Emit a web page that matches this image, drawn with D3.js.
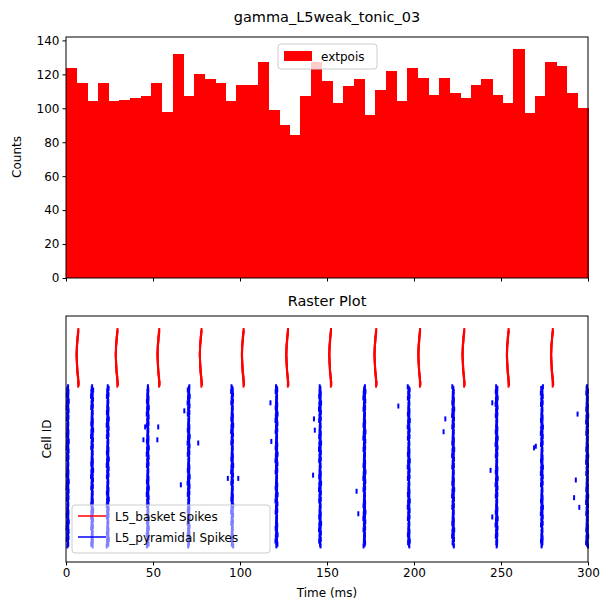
<!DOCTYPE html>
<html>
<head>
<meta charset="utf-8">
<script src="https://cdn.jsdelivr.net/npm/d3@7"></script>
<style>
body { margin: 0; background: #fff; }
text { font-family: "DejaVu Sans", sans-serif; }
</style>
</head>
<body>
<div id="chart"></div>
<script>
// histogram of extpois input, 49 bins over 0-300 ms
var histCounts = [124, 115, 104, 115, 104, 105, 106, 107, 115, 98, 132, 107, 120, 117, 115, 104, 114, 114, 127, 99,
	90, 84, 107, 127, 116, 103, 113, 117, 96, 111, 122, 104, 124, 118, 108, 118, 109, 106, 114, 117,
	108, 103, 135, 97, 107, 127, 125, 109, 100];
var yTicksTop = [0, 20, 40, 60, 80, 100, 120, 140];
var xTicks = [0, 50, 100, 150, 200, 250, 300];

// raster: burst times (ms) and per-cell offsets (ms)
var basketBursts = [6.5, 29, 53, 77.3, 101.5, 127, 151.7, 177.7, 202.9, 228.3, 253.8, 279.2];
var basketOffsets = [0.6, 0.5, 0.4, 0.3, 0.2, 0.1, 0.1, 0, -0.1, -0.2, -0.2, -0.3, -0.3, -0.3, -0.4, -0.4, -0.4, -0.3,
	-0.3, -0.3, -0.2, -0.2, -0.1, -0.1, 0, 0, 0.1, 0.2, 0.3, 0.4, 0.5, 0.5, 0.6, 0.8, 0.5];
var pyrBursts = [1, 15, 24, 47, 70.5, 95.5, 121, 146, 171.5, 197, 222.5, 247.5, 273.5, 299.5];
var pyrOffsets = [0.2, 0, -0.3, 0.4, 0.1, -0.5, 0.3, 0, -0.2, 0.6, -0.4, 0.1, 0.3, -0.6, 0, 0.5, -0.1, -0.3, 0.2, 0.4,
	-0.5, 0.1, 0, 0.3, -0.2];
var pyrStray = [[45.5, 60], [53, 60], [44.5, 68], [52.5, 68], [68, 50], [76, 70], [66, 96], [93, 92],
	[99, 92], [117.5, 45], [118, 69], [142.5, 55], [143, 62], [142, 90], [167, 100], [168, 114],
	[191, 47], [218, 55], [217, 63], [245, 45], [244, 87], [245, 116], [270, 72], [269, 73],
	[294, 52], [293, 93], [292, 104], [295, 110]];

var w = 611, h = 611;
var svg = d3.select("#chart").append("svg").attr("width", w).attr("height", h);
var left = 66, right = 588;

svg.append("text").attr("x", (left + right) / 2).attr("y", 22).attr("text-anchor", "middle")
	.attr("font-size", 14.5).text("gamma_L5weak_tonic_03");

// ---------- top histogram ----------
var x = d3.scaleLinear().domain([0, 300]).range([left, right]);
var yTop = d3.scaleLinear().domain([0, 142]).range([278, 37]);
var g1 = svg.append("g");
var binW = 300 / histCounts.length;
g1.selectAll("rect").data(histCounts).enter().append("rect")
	.attr("x", function(d, i) { return x(i * binW); })
	.attr("width", function(d, i) { return x((i + 1) * binW) - x(i * binW) + 0.5; })
	.attr("y", function(d) { return yTop(d); })
	.attr("height", function(d) { return yTop(0) - yTop(d); })
	.attr("fill", "#ff0000").attr("shape-rendering", "crispEdges");

g1.append("g").attr("transform", "translate(" + left + ",0)")
	.call(d3.axisLeft(yTop).tickValues(yTicksTop).tickSize(3.5).tickPadding(3))
	.call(styleAxis);
g1.append("g").attr("transform", "translate(0,278)")
	.call(d3.axisBottom(x).tickValues(xTicks).tickSize(3.5).tickFormat(""))
	.call(styleAxis);
g1.append("rect").attr("x", left).attr("y", 37).attr("width", right - left).attr("height", 241)
	.attr("fill", "none").attr("stroke", "#000").attr("stroke-width", 1);
svg.append("text").attr("transform", "translate(21,157) rotate(-90)").attr("text-anchor", "middle")
	.attr("font-size", 12).text("Counts");

// legend top
var lg = svg.append("g").attr("transform", "translate(278,44)");
lg.append("rect").attr("width", 99).attr("height", 25).attr("rx", 3).attr("fill", "#fff")
	.attr("fill-opacity", 0.8).attr("stroke", "#ccc");
lg.append("rect").attr("x", 6).attr("y", 7).attr("width", 28).attr("height", 10).attr("fill", "#ff0000");
lg.append("text").attr("x", 43).attr("y", 17).attr("font-size", 12).text("extpois");

// ---------- raster ----------
var y2 = d3.scaleLinear().domain([-9, 144]).range([316, 562]);
var g2 = svg.append("g");
var spikeH = 5;
var spikes = [];
basketBursts.forEach(function(t) {
	basketOffsets.forEach(function(o, c) {
		spikes.push({ t: t + o, id: c, col: "#ff0000" });
	});
});
pyrBursts.forEach(function(t, b) {
	for (var c = 0; c < 100; c++) {
		var o = pyrOffsets[(c + b * 7) % pyrOffsets.length];
		spikes.push({ t: t + o, id: 35 + c, col: "#0000ff" });
	}
});
pyrStray.forEach(function(s) {
	spikes.push({ t: s[0], id: s[1], col: "#0000ff" });
});
g2.selectAll("line.sp").data(spikes).enter().append("line").classed("sp", true)
	.attr("x1", function(d) { return x(d.t); }).attr("x2", function(d) { return x(d.t); })
	.attr("y1", function(d) { return y2(d.id) - spikeH / 2; })
	.attr("y2", function(d) { return y2(d.id) + spikeH / 2; })
	.attr("stroke", function(d) { return d.col; }).attr("stroke-width", 2);

g2.append("g").attr("transform", "translate(0,562)")
	.call(d3.axisBottom(x).tickValues(xTicks).tickSize(3.5).tickPadding(3))
	.call(styleAxis);
g2.append("rect").attr("x", left).attr("y", 316).attr("width", right - left).attr("height", 246)
	.attr("fill", "none").attr("stroke", "#000").attr("stroke-width", 1);
svg.append("text").attr("x", (left + right) / 2).attr("y", 306).attr("text-anchor", "middle")
	.attr("font-size", 14.5).text("Raster Plot");
svg.append("text").attr("x", (left + right) / 2).attr("y", 597).attr("text-anchor", "middle")
	.attr("font-size", 12).text("Time (ms)");
svg.append("text").attr("transform", "translate(51,439) rotate(-90)").attr("text-anchor", "middle")
	.attr("font-size", 12).text("Cell ID");

// legend raster
var lg2 = svg.append("g").attr("transform", "translate(72,505)");
lg2.append("rect").attr("width", 198).attr("height", 48).attr("rx", 3).attr("fill", "#fff")
	.attr("fill-opacity", 0.5).attr("stroke", "#ccc");
[["L5_basket Spikes", "#ff0000"], ["L5_pyramidal Spikes", "#0000ff"]].forEach(function(d, i) {
	var yy = 11 + i * 21;
	lg2.append("line").attr("x1", 6).attr("x2", 34).attr("y1", yy).attr("y2", yy)
		.attr("stroke", d[1]).attr("stroke-width", 1.5);
	lg2.append("text").attr("x", 43).attr("y", yy + 4.5).attr("font-size", 12).text(d[0]);
});

function styleAxis(sel) {
	sel.select(".domain").remove();
	sel.selectAll("text").attr("font-size", 12).attr("fill", "#000").style("font-family", "DejaVu Sans");
	sel.selectAll("line").attr("stroke", "#000");
}
</script>
</body>
</html>
